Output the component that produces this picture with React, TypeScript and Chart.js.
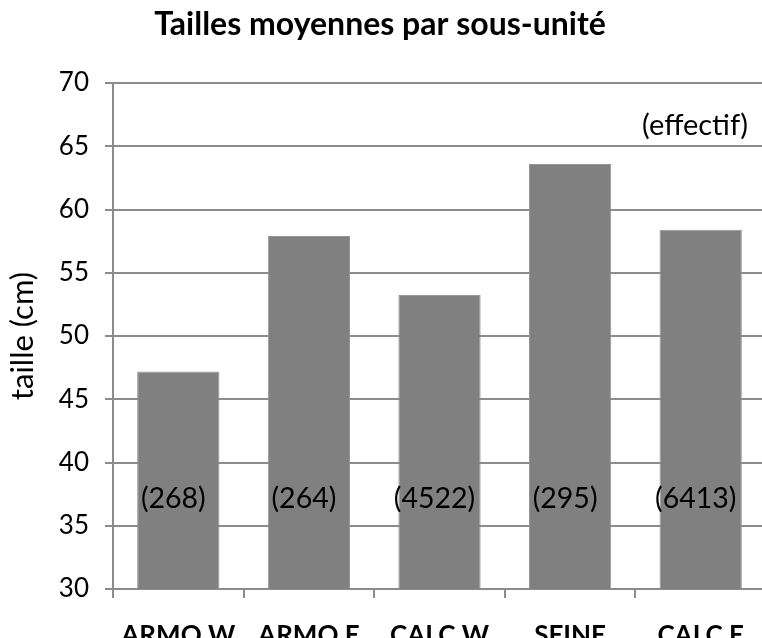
import React, { useEffect, useRef } from "react";
import { Chart, registerables } from "chart.js";

Chart.register(...registerables);

const categories = ["ARMO W", "ARMO E", "CALC W", "SEINE", "CALC E"];
const meanHeights = [47.2, 57.9, 53.25, 63.6, 58.4];
const counts = ["(268)", "(264)", "(4522)", "(295)", "(6413)"];
const yTicks = [30, 35, 40, 45, 50, 55, 60, 65, 70];
const titleText = "Tailles moyennes par sous-unité";
const yTitle = "taille (cm)";
const noteText = "(effectif)";
const labelLevel = 37.15;

const FONT = "Lato, 'Noto Sans', sans-serif";
const GRID = "#8c8c8c";

export default function App() {
  const ref = useRef<HTMLCanvasElement | null>(null);
  useEffect(() => {
    if (!ref.current) return;
    const textPlugin = {
      id: "texts",
      afterDraw(chart: any) {
        const ctx = chart.ctx;
        const x = chart.scales.x;
        const y = chart.scales.y;
        ctx.save();
        ctx.fillStyle = "#000";
        ctx.font = `bold 32px ${FONT}`;
        ctx.textAlign = "center";
        ctx.textBaseline = "middle";
        ctx.fillText(titleText, 380, 25);
        ctx.font = `29px ${FONT}`;
        ctx.textAlign = "right";
        ctx.fillText(noteText, 748, 126);
        ctx.font = `28.5px ${FONT}`;
        ctx.textAlign = "center";
        const ly = y.getPixelForValue(labelLevel);
        counts.forEach((c, i) => {
          ctx.fillText(c, x.getPixelForValue(i) - 5, ly);
        });
        ctx.restore();
      },
    };
    const chart = new Chart(ref.current, {
      type: "bar",
      data: {
        labels: categories,
        datasets: [
          {
            data: meanHeights,
            backgroundColor: "#808080",
            borderColor: "#949494",
            borderWidth: 1,
            barPercentage: 0.7,
            categoryPercentage: 0.9,
          },
        ],
      },
      options: {
        responsive: false,
        animation: false,
        layout: { padding: { top: 83, left: 0, right: 4, bottom: 0 } },
        plugins: {
          legend: { display: false },
          title: { display: false },
          tooltip: { enabled: false },
        },
        scales: {
          x: {
            type: "category",
            offset: true,
            grid: {
              offset: true,
              drawOnChartArea: false,
              color: GRID,
              lineWidth: 2,
              tickLength: 9,
            },
            border: { color: GRID, width: 2 },
            ticks: {
              color: "#000",
              font: { family: FONT, size: 26, weight: "bold" },
              padding: 22,
              maxRotation: 0,
              autoSkip: false,
            },
            afterFit(scale: any) {
              scale.height = 49;
            },
          },
          y: {
            min: 30,
            max: 70,
            afterBuildTicks(scale: any) {
              scale.ticks = yTicks.map((v) => ({ value: v }));
            },
            grid: { color: GRID, lineWidth: 2, tickLength: 8 },
            border: { color: GRID, width: 2 },
            ticks: {
              color: "#000",
              font: { family: FONT, size: 26 },
              padding: 16,
            },
            title: {
              display: true,
              text: yTitle,
              color: "#000",
              font: { family: FONT, size: 31 },
              padding: { top: 4, bottom: 0 },
            },
            afterFit(scale: any) {
              scale.width = 113;
            },
          },
        },
      },
      plugins: [textPlugin],
    });
    return () => chart.destroy();
  }, []);
  return (
    <div style={{ position: "fixed", left: 0, top: 0, width: 770, height: 638, background: "#fff" }}>
      <canvas ref={ref} width={770} height={638} />
    </div>
  );
}
